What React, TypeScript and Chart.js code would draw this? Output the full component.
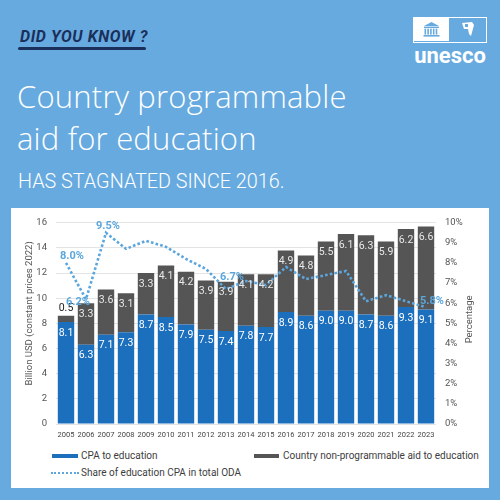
import React, { useEffect, useRef } from "react";
import { Chart, registerables } from "chart.js";

Chart.register(...registerables);

// Years shown on the category axis
const years = [
  "2005", "2006", "2007", "2008", "2009", "2010", "2011", "2012", "2013", "2014",
  "2015", "2016", "2017", "2018", "2019", "2020", "2021", "2022", "2023",
];

// Billion USD, constant 2022 prices
const cpaToEducation = [8.1, 6.3, 7.1, 7.3, 8.7, 8.5, 7.9, 7.5, 7.4, 7.8, 7.7, 8.9, 8.6, 9.0, 9.0, 8.7, 8.6, 9.3, 9.1];
const nonProgrammableAid = [0.5, 3.3, 3.6, 3.1, 3.3, 4.1, 4.2, 3.9, 3.9, 4.1, 4.2, 4.9, 4.8, 5.5, 6.1, 6.3, 5.9, 6.2, 6.6];

// Share of education CPA in total ODA, %
const cpaShareOfOda = [8.0, 6.2, 9.5, 8.7, 9.1, 8.8, 8.2, 7.7, 6.7, 7.1, 6.9, 7.8, 7.2, 7.4, 7.6, 6.1, 6.4, 6.1, 5.8];

// Which share points carry a value label
const labelledShareYears = ["2005", "2006", "2007", "2013", "2023"];

// Axis ranges
const amountAxisMax = 16;
const amountAxisStep = 2;
const shareAxisMax = 10;
const shareAxisStep = 1;

const BLUE = "#1c6fbd";
const GREY = "#555555";
const LINE_BLUE = "#5ba6dc";
const PAGE_BG = "#67aadf";
const FONT = "Roboto, 'Noto Sans', sans-serif";

// Label placement around the labelled share points (dx, dy in px)
const shareLabelNudge: Record<string, [number, number]> = {
  "2005": [6, -7],
  "2006": [-8, 3],
  "2007": [2, -7],
  "2013": [6, -12],
  "2023": [6, -6],
};

const valueLabels = {
  id: "valueLabels",
  afterDatasetsDraw(chart: any) {
    const ctx = chart.ctx as CanvasRenderingContext2D;
    ctx.save();
    ctx.textAlign = "center";
    ctx.textBaseline = "middle";

    // bar segment values
    ctx.font = `10.5px ${FONT}`;
    [0, 1].forEach((di) => {
      const meta = chart.getDatasetMeta(di);
      const data = chart.data.datasets[di].data as number[];
      meta.data.forEach((el: any, i: number) => {
        const h = Math.abs(el.base - el.y);
        let y = el.y + 11;
        let color = di === 0 ? "#ffffff" : "#e8e8e8";
        if (h < 16) {
          y = el.y - 7;
          color = "#1a1a1a";
        }
        ctx.fillStyle = color;
        ctx.fillText(data[i].toFixed(1), el.x, y);
      });
    });

    // share line values
    ctx.font = `bold 11px ${FONT}`;
    ctx.fillStyle = LINE_BLUE;
    const lineMeta = chart.getDatasetMeta(2);
    const lineData = chart.data.datasets[2].data as number[];
    labelledShareYears.forEach((yr) => {
      const i = years.indexOf(yr);
      const pt: any = lineMeta.data[i];
      const [dx, dy] = shareLabelNudge[yr];
      ctx.fillText(`${lineData[i].toFixed(1)}%`, pt.x + dx, pt.y + dy);
    });

    // axis titles, both reading bottom-to-top
    const { left, right, top, bottom } = chart.chartArea;
    const mid = (top + bottom) / 2;
    ctx.font = `9.5px ${FONT}`;
    ctx.fillStyle = "#555555";
    ctx.save();
    ctx.translate(left - 26, mid - 10);
    ctx.rotate(-Math.PI / 2);
    ctx.fillText("Billion USD (constant prices 2022)", 0, 0);
    ctx.restore();
    ctx.save();
    ctx.translate(right + 34, mid - 4);
    ctx.rotate(-Math.PI / 2);
    ctx.fillText("Percentage", 0, 0);
    ctx.restore();

    ctx.restore();
  },
};

function ChartPanel() {
  const ref = useRef<HTMLCanvasElement | null>(null);

  useEffect(() => {
    if (!ref.current) return;
    const chart = new Chart(ref.current, {
      type: "bar",
      data: {
        labels: years,
        datasets: [
          {
            type: "bar",
            label: "CPA to education",
            data: cpaToEducation,
            backgroundColor: BLUE,
            stack: "aid",
            yAxisID: "y",
            order: 1,
            categoryPercentage: 1,
            barPercentage: 0.82,
          },
          {
            type: "bar",
            label: "Country non-programmable aid to education",
            data: nonProgrammableAid,
            backgroundColor: GREY,
            stack: "aid",
            yAxisID: "y",
            order: 1,
            categoryPercentage: 1,
            barPercentage: 0.82,
          },
          {
            type: "line",
            label: "Share of education CPA in total ODA",
            data: cpaShareOfOda,
            borderColor: LINE_BLUE,
            borderWidth: 2.6,
            borderDash: [2.6, 2.2],
            pointRadius: 0,
            tension: 0,
            yAxisID: "y1",
            order: 0,
          } as any,
        ],
      },
      options: {
        responsive: false,
        animation: false,
        devicePixelRatio: 1,
        layout: { padding: { top: 12, left: 0, right: 0, bottom: 0 } },
        plugins: {
          legend: { display: false },
          tooltip: { enabled: false },
          title: { display: false },
        },
        scales: {
          x: {
            stacked: true,
            grid: { display: false, drawTicks: false },
            border: { display: false },
            ticks: {
              color: "#444",
              font: { family: FONT, size: 7.5 },
              padding: 7,
              maxRotation: 0,
              autoSkip: false,
            },
            afterFit(s: any) {
              s.height = 19;
            },
          },
          y: {
            stacked: true,
            position: "left",
            min: 0,
            max: amountAxisMax,
            grid: { color: "#e4e4e4", drawTicks: false, lineWidth: 1 },
            border: { display: false },
            ticks: {
              stepSize: amountAxisStep,
              color: "#555",
              font: { family: FONT, size: 9.5 },
              padding: 9,
            },
            afterFit(s: any) {
              s.width = 45;
            },
          },
          y1: {
            position: "right",
            min: 0,
            max: shareAxisMax,
            grid: { display: false, drawTicks: false },
            border: { display: false },
            ticks: {
              stepSize: shareAxisStep,
              color: "#555",
              font: { family: FONT, size: 9.5 },
              padding: 9,
              callback: (v: any) => `${v}%`,
            },
            afterFit(s: any) {
              s.width = 53;
            },
          },
        },
      },
      plugins: [valueLabels],
    });
    return () => chart.destroy();
  }, []);

  return (
    <canvas
      ref={ref}
      width={478}
      height={235}
      style={{ position: "absolute", left: 0, top: 0, width: 478, height: 235 }}
    />
  );
}

function LegendRow() {
  const text: React.CSSProperties = {
    position: "absolute",
    fontFamily: FONT,
    fontSize: 10,
    color: "#3d3d3d",
    lineHeight: "14px",
    whiteSpace: "nowrap",
  };
  return (
    <>
      <div style={{ position: "absolute", left: 41, top: 246, width: 26, height: 4, background: BLUE }} />
      <div style={{ ...text, left: 70, top: 241 }}>CPA to education</div>
      <div style={{ position: "absolute", left: 243, top: 246, width: 25, height: 4, background: GREY }} />
      <div style={{ ...text, left: 272, top: 241 }}>Country non-programmable aid to education</div>
      <div
        style={{
          position: "absolute",
          left: 40,
          top: 264,
          width: 28,
          height: 0,
          borderTop: `2px dotted ${LINE_BLUE}`,
        }}
      />
      <div style={{ ...text, left: 70, top: 258 }}>Share of education CPA in total ODA</div>
    </>
  );
}

function Logo() {
  return (
    <div style={{ position: "absolute", left: 413, top: 17, width: 74 }}>
      <div
        style={{
          position: "relative",
          width: 74,
          height: 26,
          boxSizing: "border-box",
          border: "1.5px solid #ffffff",
        }}
      >
        <div style={{ position: "absolute", left: 0, top: 0, width: 35, height: 23, background: "#ffffff" }}>
          <svg width="35" height="23" viewBox="0 0 35 23">
            <polygon points="10,8 17.5,4 25,8" fill={PAGE_BG} />
            <rect x="10" y="8.6" width="15" height="1.4" fill={PAGE_BG} />
            {[10.5, 13.3, 16.1, 18.9, 21.7].map((x) => (
              <rect key={x} x={x} y="10.6" width="1.6" height="6" fill={PAGE_BG} />
            ))}
            <rect x="9.5" y="17" width="16" height="1.6" fill={PAGE_BG} />
          </svg>
        </div>
        <svg style={{ position: "absolute", left: 36, top: 0 }} width="36" height="23" viewBox="0 0 36 23">
          <polygon points="12,5 22,4 24,7 21,18 19,16 18,11 14,11" fill="#ffffff" />
          <polygon points="15,6 18,6 18,9 15,9" fill={PAGE_BG} />
        </svg>
      </div>
      <div
        style={{
          textAlign: "center",
          color: "#ffffff",
          fontFamily: FONT,
          fontWeight: 700,
          fontSize: 22,
          lineHeight: "22px",
          marginTop: 2,
          letterSpacing: 0,
        }}
      >
        unesco
      </div>
    </div>
  );
}

export default function App() {
  return (
    <div
      style={{
        position: "fixed",
        left: 0,
        top: 0,
        width: 500,
        height: 500,
        background: PAGE_BG,
        overflow: "hidden",
        fontFamily: FONT,
      }}
    >
      <div
        style={{
          position: "absolute",
          left: 20,
          top: 29,
          fontFamily: FONT,
          fontStyle: "italic",
          fontWeight: 700,
          fontSize: 16,
          lineHeight: "16px",
          color: "#1b2f5b",
          letterSpacing: 0.6,
          whiteSpace: "nowrap",
        }}
      >
        DID YOU KNOW ?
      </div>
      <div
        style={{
          position: "absolute",
          left: 18,
          top: 47,
          width: 128,
          height: 2.5,
          borderRadius: 2,
          background: "#1b2f5b",
        }}
      />
      <Logo />
      <div
        style={{
          position: "absolute",
          left: 17,
          top: 75,
          fontFamily: "'Open Sans', Roboto, sans-serif",
          fontSize: 31,
          fontWeight: 300,
          lineHeight: "42px",
          letterSpacing: 0.2,
          color: "#ffffff",
          whiteSpace: "nowrap",
        }}
      >
        <div>Country programmable</div>
        <div>aid for education</div>
      </div>
      <div
        style={{
          position: "absolute",
          left: 18,
          top: 172,
          fontSize: 19.8,
          fontWeight: 300,
          lineHeight: "20px",
          color: "#ffffff",
          whiteSpace: "nowrap",
        }}
      >
        HAS STAGNATED SINCE 2016.
      </div>
      <div
        style={{
          position: "absolute",
          left: 11,
          top: 208,
          width: 478,
          height: 280,
          background: "#ffffff",
        }}
      >
        <ChartPanel />
        <LegendRow />
      </div>
    </div>
  );
}
